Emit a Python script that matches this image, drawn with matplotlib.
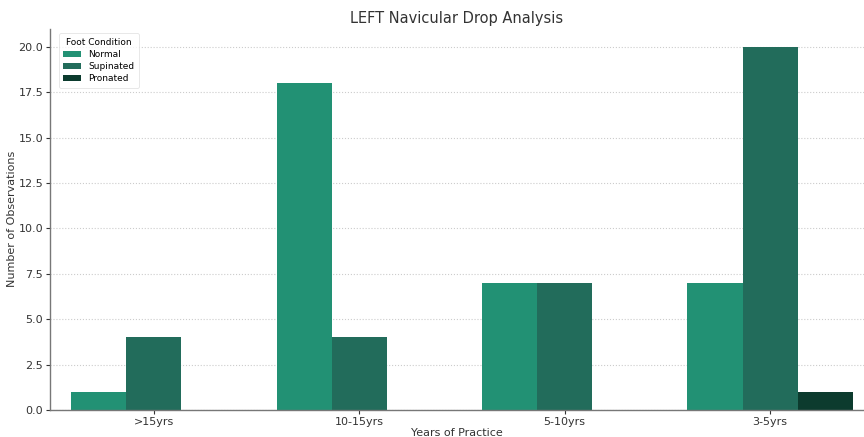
import matplotlib
matplotlib.use("Agg")
import matplotlib.pyplot as plt
import numpy as np

### data ###
categories = [">15yrs", "10-15yrs", "5-10yrs", "3-5yrs"]
normal = [1, 18, 7, 7]
supinated = [4, 4, 7, 20]
pronated = [0, 0, 0, 1]

series = [("Normal", normal, "#229174"),
          ("Supinated", supinated, "#226c5b"),
          ("Pronated", pronated, "#0c3b2e")]

fig = plt.figure(figsize=(8.64, 4.37), dpi=100)
ax = fig.add_axes([0.058, 0.062, 0.942, 0.872])

x = np.arange(len(categories))
width = 0.268
for i, (name, vals, col) in enumerate(series):
    ax.bar(x + (i - 1) * width, vals, width, color=col, label=name, zorder=2)

ax.set_xticks(x)
ax.set_xticklabels(categories)
ax.set_xlim(-0.504, 3.457)
ax.set_ylim(0, 21)
ax.set_yticks(np.arange(0, 20.1, 2.5))
ax.set_yticklabels([f"{v:.1f}" for v in np.arange(0, 20.1, 2.5)])

ax.set_title("LEFT Navicular Drop Analysis", fontsize=10.5, color="#333333", pad=4)
ax.set_xlabel("Years of Practice", fontsize=8, color="#333333", labelpad=1)
ax.set_ylabel("Number of Observations", fontsize=8, color="#333333", labelpad=1)

ax.yaxis.grid(True, linestyle=":", color="#cccccc", linewidth=0.8, zorder=0)
ax.set_axisbelow(True)
for s in ["top", "right"]:
    ax.spines[s].set_visible(False)
for s in ["left", "bottom"]:
    ax.spines[s].set_color("#777777")
    ax.spines[s].set_linewidth(1.0)
ax.tick_params(axis="both", labelsize=8, colors="#333333", length=3, width=0.8, pad=2)

leg = ax.legend(title="Foot Condition", loc="upper left", fontsize=6.5,
                title_fontsize=6.5, frameon=True, borderpad=0.5,
                handlelength=2.0, handleheight=0.6, labelspacing=0.35,
                bbox_to_anchor=(0.005, 1.0))
leg.get_frame().set_edgecolor("#dddddd")
leg.get_frame().set_linewidth(0.6)

fig.savefig("out.png", dpi=100)
